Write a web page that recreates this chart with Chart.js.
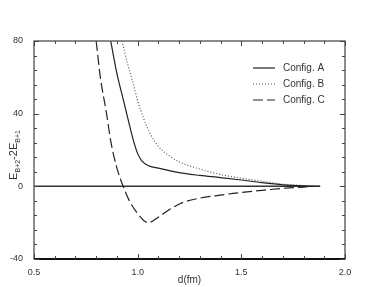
<!DOCTYPE html>
<html>
<head>
<meta charset="utf-8">
<script src="https://cdn.jsdelivr.net/npm/chart.js@4/dist/chart.umd.min.js"></script>
<style>
  html, body { margin: 0; padding: 0; background: #fff; }
  #wrap { width: 366px; height: 287px; }
</style>
</head>
<body>
<div id="wrap"><canvas id="chart" width="366" height="287"></canvas></div>
<script>
const xTickLabels = [0.5, 1.0, 1.5, 2.0];
const yTickLabels = [-40, 0, 40, 80];

const dA = [0.87, 0.90, 0.93, 0.96, 0.98, 1.00, 1.02, 1.05, 1.10, 1.20, 1.30, 1.40, 1.50, 1.60, 1.70, 1.80, 1.88];
const eA = [80, 62, 48, 34, 25, 18, 14, 11.5, 10, 7.5, 6, 4.8, 3.5, 2, 0.8, 0.2, 0];

const dB = [0.925, 0.95, 0.98, 1.00, 1.03, 1.06, 1.10, 1.15, 1.20, 1.30, 1.40, 1.50, 1.60, 1.70, 1.80, 1.85];
const eB = [80, 68, 56, 47, 37, 29, 22, 17, 13.5, 9.5, 6.5, 4.5, 2.8, 1.2, 0.4, 0];

const dC = [0.80, 0.82, 0.85, 0.87, 0.90, 0.93, 0.96, 1.00, 1.05, 1.10, 1.15, 1.22, 1.30, 1.40, 1.46, 1.60, 1.70, 1.80, 1.85];
const eC = [80, 60, 40, 25, 10, 0, -8, -15, -20, -17, -13, -8.8, -6.5, -4.8, -3.9, -2.2, -1.1, -0.4, 0];

const dZero = [0.5, 1.88];
const eZero = [0, 0];

const toPoints = (xs, ys) => xs.map((x, i) => ({ x, y: ys[i] }));

const FONT = '"Liberation Sans", Arial, sans-serif';

const framePlugin = {
    id: 'frame',
    afterDatasetsDraw(chart) {
        const { ctx, chartArea: a, scales: { x, y } } = chart;
        ctx.save();
        // frame
        ctx.strokeStyle = '#666';
        ctx.lineWidth = 1.5;
        ctx.strokeRect(a.left, a.top, a.right - a.left, a.bottom - a.top);
        ctx.strokeStyle = '#111';
        ctx.lineWidth = 2;
        ctx.beginPath();
        ctx.moveTo(a.left, a.bottom);
        ctx.lineTo(a.right, a.bottom);
        ctx.stroke();

        // inward ticks
        ctx.strokeStyle = '#444';
        ctx.lineWidth = 1;
        ctx.beginPath();
        for (let v = 0.5; v <= 2.0001; v += 0.1) {
            const px = Math.round(x.getPixelForValue(v)) + 0.5;
            const major = Math.abs(v * 2 - Math.round(v * 2)) < 1e-6;
            const len = major ? 5 : 3;
            ctx.moveTo(px, a.bottom);
            ctx.lineTo(px, a.bottom - len);
            ctx.moveTo(px, a.top);
            ctx.lineTo(px, a.top + len);
        }
        for (let v = -40; v <= 80; v += 8) {
            const py = Math.round(y.getPixelForValue(v)) + 0.5;
            const major = v % 40 === 0;
            const len = major ? 5 : 3;
            ctx.moveTo(a.left, py);
            ctx.lineTo(a.left + len, py);
            ctx.moveTo(a.right, py);
            ctx.lineTo(a.right - len, py);
        }
        ctx.stroke();

        // legend
        const items = chart.data.datasets.filter((d) => d.label);
        ctx.font = '10px ' + FONT;
        ctx.textBaseline = 'middle';
        items.forEach((d, i) => {
            const ly = 68 + i * 16;
            ctx.strokeStyle = d.borderColor;
            ctx.lineWidth = d.borderWidth;
            ctx.setLineDash(d.borderDash || []);
            ctx.beginPath();
            ctx.moveTo(253, ly);
            ctx.lineTo(275, ly);
            ctx.stroke();
            ctx.setLineDash([]);
            ctx.fillStyle = '#333';
            ctx.fillText(d.label, 283, ly);
        });

        // y axis title with subscripts
        ctx.translate(13, 155);
        ctx.rotate(-Math.PI / 2);
        ctx.fillStyle = '#333';
        ctx.textBaseline = 'alphabetic';
        const parts = [['E', 11, 0], ['B+2', 7, 3], ['-2E', 11, 0], ['B+1', 7, 3]];
        let total = 0;
        parts.forEach(([t, s]) => { ctx.font = s + 'px ' + FONT; total += ctx.measureText(t).width; });
        let cx = -total / 2;
        parts.forEach(([t, s, dy]) => {
            ctx.font = s + 'px ' + FONT;
            ctx.fillText(t, cx, 4 + dy);
            cx += ctx.measureText(t).width;
        });
        ctx.restore();
    },
};

new Chart(document.getElementById('chart'), {
    type: 'line',
    data: {
        datasets: [
            {
                label: 'Config. A',
                data: toPoints(dA, eA),
                borderColor: '#222',
                borderWidth: 1.2,
                pointRadius: 0,
                cubicInterpolationMode: 'monotone',
            },
            {
                label: 'Config. B',
                data: toPoints(dB, eB),
                borderColor: '#555',
                borderWidth: 1.2,
                borderDash: [1, 2],
                pointRadius: 0,
                cubicInterpolationMode: 'monotone',
            },
            {
                label: 'Config. C',
                data: toPoints(dC, eC),
                borderColor: '#222',
                borderWidth: 1.2,
                borderDash: [10, 4],
                pointRadius: 0,
                cubicInterpolationMode: 'monotone',
            },
            {
                label: '',
                data: toPoints(dZero, eZero),
                borderColor: '#333',
                borderWidth: 1.5,
                pointRadius: 0,
            },
        ],
    },
    options: {
        responsive: false,
        animation: false,
        layout: { padding: { left: 0, top: 41, right: 21, bottom: 0 } },
        plugins: { legend: { display: false }, tooltip: { enabled: false } },
        scales: {
            x: {
                type: 'linear',
                min: 0.5,
                max: 2.0,
                afterFit: (s) => { s.height = 28; },
                grid: { display: false },
                border: { display: false },
                ticks: {
                    stepSize: 0.5,
                    padding: 0,
                    color: '#333',
                    font: { family: FONT, size: 9 },
                    callback: (v) => (xTickLabels.some((t) => Math.abs(t - v) < 1e-6) ? v.toFixed(1) : ''),
                },
                title: {
                    display: true,
                    text: 'd(fm)',
                    color: '#333',
                    padding: { top: 0, bottom: 1 },
                    font: { family: FONT, size: 10 },
                },
            },
            y: {
                type: 'linear',
                min: -40,
                max: 80,
                afterFit: (s) => { s.width = 34; },
                grid: { display: false },
                border: { display: false },
                ticks: {
                    stepSize: 40,
                    padding: 3,
                    color: '#333',
                    font: { family: FONT, size: 9 },
                    callback: (v) => (yTickLabels.includes(v) ? String(v) : ''),
                },
            },
        },
    },
    plugins: [framePlugin],
});
</script>
</body>
</html>
